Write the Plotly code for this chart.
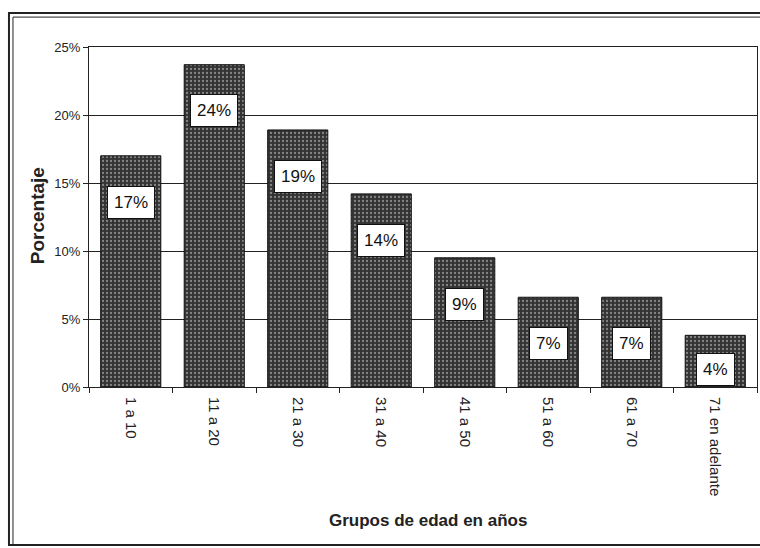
import plotly.graph_objects as go

categories = ["1 a 10", "11 a 20", "21 a 30", "31 a 40", "41 a 50", "51 a 60", "61 a 70", "71 en adelante"]
values = [17.0, 23.7, 18.9, 14.2, 9.5, 6.6, 6.6, 3.8]
labels = ["17%", "24%", "19%", "14%", "9%", "7%", "7%", "4%"]
y_ticks = [0, 5, 10, 15, 20, 25]

FONT = "Liberation Sans, Arial, sans-serif"

fig = go.Figure()
fig.add_trace(go.Bar(
    x=categories, y=values, width=0.72,
    marker=dict(color="#333333", line=dict(color="#111111", width=1),
                pattern=dict(shape=".", fgcolor="#d8d8d8", bgcolor="#333333",
                             size=4, solidity=0.25)),
    hoverinfo="skip",
))

annotations = []
for c, v, t in zip(categories, values, labels):
    annotations.append(dict(x=c, y=max(v - 3.4, 1.3), xref="x", yref="y", text=t,
                            showarrow=False, yanchor="middle",
                            bgcolor="white", bordercolor="#111111", borderwidth=1,
                            borderpad=6, font=dict(family=FONT, size=17, color="#111111")))

annotations.append(dict(x=-0.076, y=0.503, xref="paper", yref="paper", text="<b>Porcentaje</b>",
                        textangle=-90, showarrow=False, xanchor="center", yanchor="middle",
                        font=dict(family=FONT, size=19, color="#222222")))
annotations.append(dict(x=0.5075, y=-0.394, xref="paper", yref="paper",
                        text="<b>Grupos de edad en años</b>",
                        showarrow=False, xanchor="center", yanchor="middle",
                        font=dict(family=FONT, size=17, color="#222222")))

shapes = [
    dict(type="rect", xref="paper", yref="paper", x0=-0.1198, x1=1.02, y0=-0.4647, y1=1.1,
         line=dict(color="#222222", width=2)),
    dict(type="rect", xref="paper", yref="paper", x0=-0.1138, x1=1.02, y0=-0.4647, y1=1.088,
         line=dict(color="#222222", width=1)),
]

fig.update_layout(
    width=760, height=548,
    margin=dict(l=89, r=3, t=47, b=161),
    paper_bgcolor="white", plot_bgcolor="white",
    showlegend=False, bargap=0.28,
    annotations=annotations, shapes=shapes,
    font=dict(family=FONT, color="#222222"),
)
fig.update_xaxes(
    showline=True, linecolor="#222222", linewidth=1, mirror=True,
    ticks="outside", tickson="boundaries", ticklen=5, tickcolor="#222222",
    tickangle=90, tickfont=dict(family=FONT, size=15, color="#222222"),
    ticklabelstandoff=6, showgrid=False,
)
fig.update_yaxes(
    range=[0, 25], tickvals=y_ticks, ticktext=[f"{v}%" for v in y_ticks],
    showline=True, linecolor="#222222", linewidth=1, mirror=True,
    ticks="outside", ticklen=5, tickcolor="#222222",
    showgrid=True, gridcolor="#222222", gridwidth=1,
    tickfont=dict(family=FONT, size=13, color="#222222"),
    zeroline=False,
)

fig.write_html("out.html", config={"displayModeBar": False},
               post_script="document.body.style.margin='0';document.body.style.overflow='hidden';")
